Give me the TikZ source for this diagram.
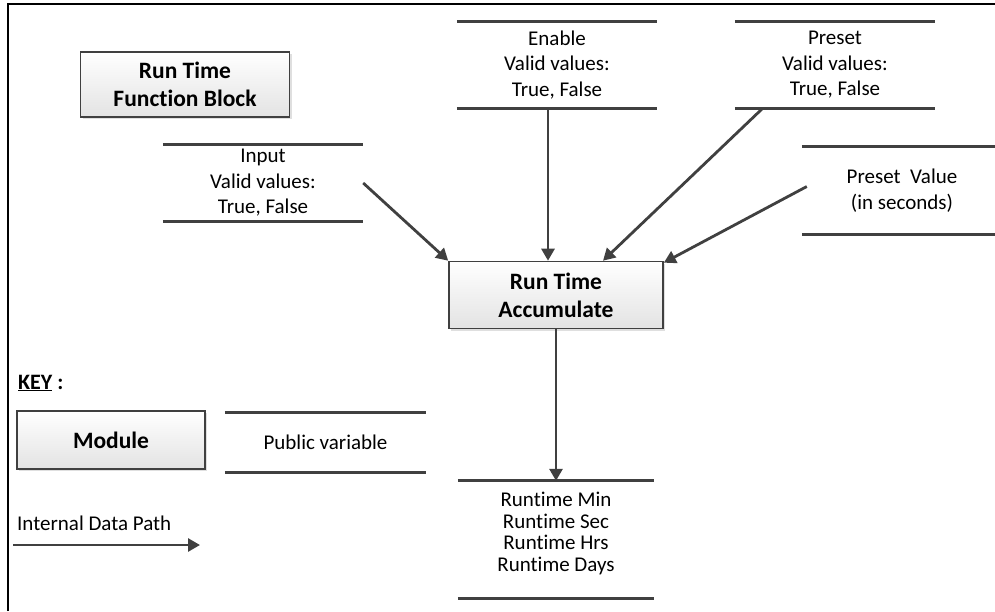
\documentclass[tikz,border=0pt]{standalone}
\usepackage{fontspec}
\setmainfont[Ligatures=NoCommon]{Carlito}
\usetikzlibrary{positioning,shapes,arrows.meta,shadows}
\definecolor{linegray}{HTML}{404040}

\tikzset{
  modbox/.style={draw=linegray,line width=1.6pt,top color=white,bottom color=gray!22,
    drop shadow={shadow xshift=2pt,shadow yshift=-2pt,opacity=0.25},
    font=\fontsize{23.5}{28}\selectfont\bfseries,align=center,inner sep=0pt},
  pubvar/.style={align=center,inner sep=0pt,font=\fontsize{21}{25.5}\selectfont},
  datapath/.style={draw=linegray,line width=2.8pt,-{Triangle[length=12pt,width=13pt]}},
}

\begin{document}
\begin{tikzpicture}[x=1pt,y=-1pt]
\useasboundingbox (0,0) rectangle (995,611);
\draw[line width=2pt] (8,611) -- (8,4) -- (995,4);

% modules
\node[modbox,minimum width=209,minimum height=65] (rtfb) at (185,84.5) {Run Time\\Function Block};
\node[modbox,minimum width=214,minimum height=67] (acc) at (556,295) {Run Time\\Accumulate};

% public variables
\node[pubvar,minimum width=200,minimum height=76] (inp) at (263,183) {Input\\Valid values:\\True, False};
\node[pubvar,minimum width=200,minimum height=86] (ena) at (557,65) {Enable\\Valid values:\\True, False};
\node[pubvar,minimum width=200,minimum height=86] (pre) at (835,65) {Preset\\Valid values:\\True, False};
\node[pubvar,minimum width=200,minimum height=87] (pval) at (902,190.5) {Preset~~Value\\(in seconds)};
\node[pubvar,minimum width=196,minimum height=117] (out) at (556,539.5)
  {\raisebox{5pt}[\height][\depth]{\fontsize{21}{21.7}\selectfont\begin{tabular}{@{}c@{}}Runtime Min\\Runtime Sec\\Runtime Hrs\\Runtime Days\end{tabular}}};

% key
\node[anchor=west,inner sep=0pt,font=\fontsize{22}{25}\selectfont\bfseries] (key) at (18,383) {\underline{KEY} :};
\node[modbox,minimum width=188,minimum height=58] (mod) at (111,440) {Module};
\node[pubvar,minimum width=201,minimum height=59] (pv) at (325.5,442.5) {Public variable};
\node[anchor=west,inner sep=0pt,font=\fontsize{21}{25}\selectfont] (idp) at (17,523) {Internal Data Path};
\coordinate (idps) at (13,545);
\coordinate (idpe) at (200,545);

\foreach \v in {inp,ena,pre,pval,out,pv}
{
  \draw[linegray,line width=2.8pt] (\v.north west) -- (\v.north east);
  \draw[linegray,line width=2.8pt] (\v.south west) -- (\v.south east);
}

% data paths
\draw[datapath] (inp.east) -- (acc.north west);
\draw[datapath] ([xshift=-9pt]ena.south) -- ([xshift=-8pt]acc.north);
\draw[datapath] ([xshift=28pt]pre.south west) -- ([xshift=47pt]acc.north);
\draw[datapath] ([xshift=5pt,yshift=4pt]pval.west) -- ([yshift=-2pt]acc.north east);
\draw[datapath] (acc.south) -- (out.north);
\draw[datapath] (idps) -- (idpe);

\end{tikzpicture}
\end{document}
